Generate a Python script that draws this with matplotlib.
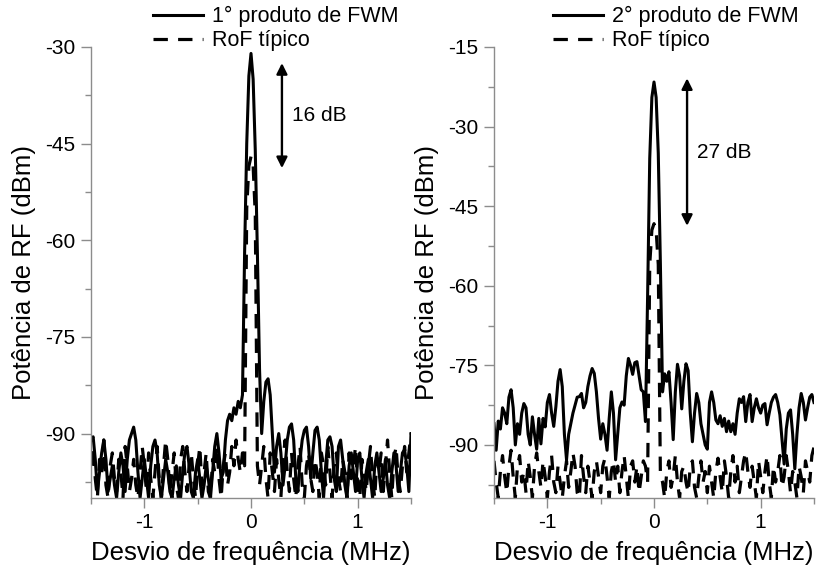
import numpy as np
import matplotlib
matplotlib.use('Agg')
import matplotlib.pyplot as plt
from matplotlib.ticker import MultipleLocator

plt.rcParams['font.family'] = ['Liberation Sans', 'DejaVu Sans']
plt.rcParams['axes.unicode_minus'] = False

# frequency offset (MHz), one point every 0.02 MHz
freq = np.round(np.arange(-1.5, 1.5001, 0.02), 2)

# left panel: 1st FWM product (solid) and typical RoF (dashed), dBm
fwm1 = [-91, -90.5, -94, -99, -96, -93, -91, -94, -99, -97,
        -95, -98, -100, -96, -93, -95, -99, -94, -91, -90,
        -89, -91, -96, -100, -97, -94, -97, -100, -95, -92,
        -91, -93, -98, -100, -97, -94, -96, -99, -100, -97,
        -95, -98, -100, -96, -93, -92, -95, -99, -100, -96,
        -94, -97, -100, -98, -95, -97, -100, -96, -92, -90,
        -93, -97, -96, -91, -88, -87, -88, -86, -87, -85,
        -86, -84, -62, -45, -34.5, -31, -35, -46, -62, -80,
        -90, -85, -82, -81.5, -84, -90, -96, -92, -90, -93,
        -98, -95, -91, -89, -88.5, -91, -97, -99, -94, -91,
        -89.5, -89, -92, -97, -93, -89.5, -89, -91, -96, -100,
        -95, -91, -90.5, -92, -97, -99, -92, -91, -94, -98,
        -100, -95, -93, -96, -99, -94, -93, -97, -100, -96,
        -94, -97, -100, -95, -93, -96, -99, -97, -94, -98,
        -100, -96, -93, -95, -99, -96, -93, -92.5, -95, -99,
        -90]
rof1 = [-95, -92, -97, -100, -94, -96, -91, -98, -100, -95,
        -93, -97, -99, -94, -96, -100, -92, -95, -99, -97,
        -94, -98, -100, -96, -92, -95, -99, -93, -97, -100,
        -96, -92, -97, -100, -95, -91, -94, -99, -96, -93,
        -98, -100, -94, -92, -96, -99, -95, -93, -97, -100,
        -95, -92, -98, -96, -93, -99, -100, -94, -96, -92,
        -97, -100, -95, -93, -98, -96, -92, -95, -91, -94,
        -96, -93, -95, -55, -48.5, -47, -48.5, -56, -95, -98,
        -95, -92, -97, -100, -93, -96, -99, -94, -97, -100,
        -94, -91, -96, -99, -93, -97, -100, -95, -92, -98,
        -100, -95, -93, -97, -99, -94, -96, -100, -93, -95,
        -98, -92, -96, -100, -95, -93, -97, -99, -94, -96,
        -100, -93, -97, -95, -92, -98, -100, -94, -96, -99,
        -95, -92, -97, -100, -94, -96, -93, -99, -95, -91,
        -96, -100, -94, -92, -97, -99, -95, -92, -96, -93,
        -90]

# right panel: 2nd FWM product (solid) and typical RoF (dashed), dBm
fwm2 = [-86, -91, -85.5, -87, -83, -84, -86, -81, -79.6, -83,
        -90, -86, -88, -84, -82.2, -83, -88, -90, -84.7, -88,
        -90.8, -85, -89.8, -85, -86.6, -82, -80.5, -84, -86.5, -82.8,
        -78, -75.8, -79, -88, -92.8, -88, -86, -84, -82.5, -81,
        -80.9, -80.3, -83, -82, -79, -77, -75.6, -76.5, -80, -85,
        -88.9, -86, -88, -91, -85, -80, -84, -92.8, -88, -83,
        -81.9, -82.5, -77, -73.7, -75, -76.7, -74.5, -74.3, -77, -79.6,
        -80, -85.6, -62, -36, -24.5, -21.6, -24.5, -35, -56, -80,
        -76.6, -78, -76.2, -82, -89, -80, -74.8, -77, -83.2, -78,
        -74.7, -76, -84, -89.4, -84, -80.3, -82, -86, -88, -90,
        -90.8, -82, -80, -82, -85.3, -86, -84.5, -86.5, -85, -87.5,
        -85.5, -87.5, -86, -88, -84, -81.3, -82, -80.9, -85.6, -82,
        -80.5, -85.6, -83, -81.3, -83, -84, -82.5, -82.2, -86.2, -84,
        -82, -81, -80.5, -82, -84.3, -89, -93.6, -87, -84, -83.4,
        -88, -94.5, -88, -83, -80.3, -82, -85.3, -83, -81, -80.5,
        -82]
rof2 = [-93, -97, -100, -95, -92, -96, -99, -94, -91, -96,
        -100, -94, -92, -97, -95, -99, -93, -96, -100, -94,
        -91.5, -95, -98, -93, -96, -100, -95, -92, -97, -99,
        -94, -97, -100, -96, -93, -98, -95, -91.5, -94, -99,
        -100, -92, -96, -99, -94, -97, -100, -95, -93, -96,
        -99, -94, -92.5, -96, -100, -95, -93, -97, -94, -99,
        -95, -92, -96, -100, -94, -93, -97, -94, -99, -96,
        -93, -94, -97, -56, -49.5, -48.3, -49.5, -56, -96, -97,
        -100, -95, -93, -98, -96, -92, -97, -100, -95, -94,
        -97, -99, -94, -93, -98, -100, -96, -93, -97, -95,
        -99, -94, -97, -100, -95, -92.5, -96, -99, -93, -96,
        -100, -95, -92, -97, -94, -99, -96, -93, -91.3, -95,
        -98, -94, -97, -100, -93, -96, -99, -95, -92, -97,
        -100, -94, -97, -95, -92, -98, -96, -92, -95, -99,
        -95, -97, -100, -94, -96, -99, -93, -95, -97, -92,
        -90.4]

panels = [
    (fwm1, rof1, '1° produto de FWM', (-100, -30), (-32.5, -48.8), 0.29, '16 dB'),
    (fwm2, rof2, '2° produto de FWM', (-100, -15), (-20.9, -48.7), 0.31, '27 dB'),
]

fig = plt.figure(figsize=(8.22, 5.73), dpi=100)
lefts = [91 / 822, 494 / 822]
legend_x = [153 / 822, 553 / 822]
spine_col = '#8c8c8c'

for k, (solid, dashed, lab, ylim, arr, ax_x, txt) in enumerate(panels):
    ax = fig.add_axes([lefts[k], 75 / 573, 320 / 822, 451 / 573])
    l1, = ax.plot(freq, solid, color='black', lw=2.2, label=lab)
    l2, = ax.plot(freq, dashed, color='black', lw=2.3, dashes=(4.5, 3.2), label='RoF típico')
    ax.set_xlim(-1.5, 1.5)
    ax.set_ylim(*ylim)
    ax.xaxis.set_major_locator(MultipleLocator(1))
    ax.xaxis.set_minor_locator(MultipleLocator(0.5))
    ax.yaxis.set_major_locator(MultipleLocator(15))
    ax.yaxis.set_minor_locator(MultipleLocator(7.5))
    for s in ['top', 'right']:
        ax.spines[s].set_visible(False)
    for s in ['left', 'bottom']:
        ax.spines[s].set_color(spine_col)
        ax.spines[s].set_linewidth(1.0)
    ax.tick_params(which='major', direction='out', length=7, width=1, color=spine_col,
                   labelsize=15, labelcolor='black', pad=4)
    ax.tick_params(which='minor', direction='out', length=4, width=1, color=spine_col)
    ax.set_xlabel('Desvio de frequência (MHz)', fontsize=18.5, labelpad=6)
    ax.set_ylabel('Potência de RF (dBm)', fontsize=18.5, labelpad=7)

    # double arrow with the level difference
    ax.annotate('', xy=(ax_x, arr[0]), xytext=(ax_x, arr[1]),
                arrowprops=dict(arrowstyle='<|-|>', color='black', lw=1.7,
                                mutation_scale=16, shrinkA=0, shrinkB=0))
    ax.text(ax_x + 0.09, (arr[0] + arr[1]) / 2, txt, fontsize=15, va='center', ha='left')

    fig.legend(handles=[l1, l2], loc='upper left',
               bbox_to_anchor=(legend_x[k], 1 - 6 / 573), frameon=False,
               fontsize=15.5, handlelength=2.3, handletextpad=0.45,
               labelspacing=0.15, borderpad=0, borderaxespad=0)

fig.savefig('out.png', dpi=100)
